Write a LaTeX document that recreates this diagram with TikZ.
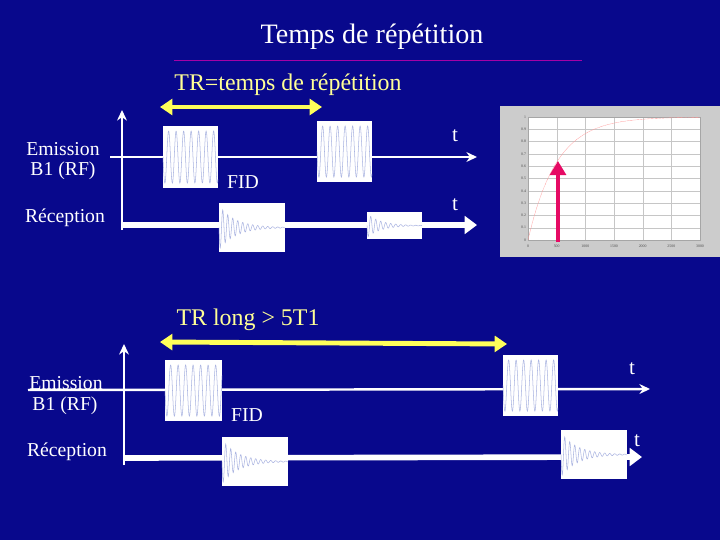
\documentclass[tikz,border=0pt]{standalone}
\usepackage{fontspec}
\setmainfont{Liberation Serif}
\usetikzlibrary{arrows.meta}
\definecolor{bg}{RGB}{8,8,140}
\definecolor{ylw}{RGB}{255,255,150}
\definecolor{wav}{RGB}{170,180,225}
\definecolor{mag}{RGB}{230,10,100}
\tikzset{
  lbl/.style={text=white,font=\fontsize{56}{60}\selectfont,inner sep=0},
  tlbl/.style={text=white,font=\fontsize{60}{64}\selectfont,inner sep=0},
  box/.style={fill=white,draw=none,inner sep=0,anchor=north west},
  wave/.style={wav,line width=1.5pt},
  thinax/.style={white,line width=7pt,-{Stealth[length=30pt,width=28pt]}},
  thickax/.style={white,line width=16pt,-{Triangle[length=35pt,width=50pt]}},
  yarr/.style={ylw!60!yellow,line width=14pt,{Triangle[length=35pt,width=45pt]}-{Triangle[length=35pt,width=45pt]}},
}
\newcommand{\rfw}[3]{\draw[wave,shift={(#1.west)}] plot[domain=0:#2,samples=200] (\x,{0.42*#3*sin(\x*48)});}
\newcommand{\fidw}[3]{\draw[wave,shift={(#1.west)}] plot[domain=0:#2,samples=200] (\x,{0.45*#3*exp(-\x*4/#2)*sin(\x*72)});}
\begin{document}
\begin{tikzpicture}[x=0.1cm,y=-0.1cm]
\useasboundingbox (0,0) rectangle (720,540);
\fill[bg] (0,0) rectangle (720,540);
% title
\node[text=white,font=\fontsize{80}{84}\selectfont,inner sep=0] (title) at (372,37) {Temps de répétition};
\coordinate (ul1) at (174,60); \coordinate (ul2) at (582,60);
\draw[violet!70!magenta,line width=2pt] (ul1) -- (ul2);
\node[text=ylw,font=\fontsize{68}{72}\selectfont,inner sep=0] (tr) at (288,85) {TR=temps de répétition};
% top diagram
\coordinate (ya1) at (160,107); \coordinate (ya2) at (322,107);
\draw[yarr] (ya1) -- (ya2);
\coordinate (v0) at (122,230); \coordinate (v1) at (122,110);
\draw[thinax] (v0) -- (v1);
\coordinate (e0) at (110,157); \coordinate (e1) at (477,157);
\draw[thinax] (e0) -- (e1);
\coordinate (r0) at (122,225); \coordinate (r1) at (477,225);
\draw[thickax] (r0) -- (r1);
\node[box,minimum width=55*0.1cm,minimum height=62*0.1cm] (p1) at (163,126) {};
\node[box,minimum width=55*0.1cm,minimum height=61*0.1cm] (p2) at (317,121) {};
\node[box,minimum width=66*0.1cm,minimum height=49*0.1cm] (f1) at (219,203) {};
\node[box,minimum width=55*0.1cm,minimum height=27*0.1cm] (f2) at (367,212) {};
\rfw{p1}{55}{62}\rfw{p2}{55}{61}\fidw{f1}{66}{49}\fidw{f2}{55}{27}
\node[lbl] (fid1) at (243,182) {FID};
\node[tlbl] (t1) at (455,136) {t};
\node[tlbl] (t2) at (455,205) {t};
\node[lbl] (em1) at (63,149) {Emission};
\node[lbl] (b1) at (63,171) {B1 (RF)};
\node[lbl] (re1) at (65,218) {Réception};
% graph
\fill[gray!40] (500,106) rectangle (720,257);
\fill[white] (528,117) rectangle (700,240);
\foreach \i in {0,...,6} \draw[gray!45,line width=0.8pt] (528+\i*172/6,117) -- (528+\i*172/6,240);
\foreach \i in {0,...,10} \draw[gray!45,line width=0.8pt] (528,240-\i*12.3) -- (700,240-\i*12.3);
\draw[gray!70,line width=0.8pt] (528,117) rectangle (700,240);
\foreach \i/\l in {0/0,1/500,2/1000,3/1500,4/2000,5/2500,6/3000}
  \node[font=\fontsize{11}{12}\selectfont,text=black!70,inner sep=0] (gx\i) at (528+\i*172/6,246) {\l};
\foreach \i/\l in {0/0,1/0.1,2/0.2,3/0.3,4/0.4,5/0.5,6/0.6,7/0.7,8/0.8,9/0.9,10/1}
  \node[font=\fontsize{11}{12}\selectfont,text=black!70,inner sep=0,anchor=east] (gy\i) at (526,240-\i*12.3) {\l};
\draw[pink!80!red,densely dotted,line width=1pt] plot[domain=0:30,samples=120] ({528+\x*172/30},{240-123*(1-exp(-\x/5))});
\coordinate (ra0) at (558,242); \coordinate (ra1) at (558,161);
\draw[mag,line width=14pt,-{Triangle[length=40pt,width=45pt]}] (ra0) -- (ra1);
% bottom diagram
\node[text=ylw,font=\fontsize{68}{72}\selectfont,inner sep=0] (trl) at (248,320) {TR long > 5T1};
\coordinate (yb1) at (160,342); \coordinate (yb2) at (507,344);
\draw[yarr] (yb1) -- (yb2);
\coordinate (w0) at (124,465); \coordinate (w1) at (124,344);
\draw[thinax] (w0) -- (w1);
\coordinate (g0) at (28,390); \coordinate (g1) at (650,389);
\draw[thinax] (g0) -- (g1);
\coordinate (s0) at (124,458); \coordinate (s1) at (642,457);
\draw[thickax] (s0) -- (s1);
\node[box,minimum width=57*0.1cm,minimum height=61*0.1cm] (p3) at (165,360) {};
\node[box,minimum width=55*0.1cm,minimum height=61*0.1cm] (p4) at (503,355) {};
\node[box,minimum width=66*0.1cm,minimum height=49*0.1cm] (f3) at (222,437) {};
\node[box,minimum width=66*0.1cm,minimum height=49*0.1cm] (f4) at (561,430) {};
\rfw{p3}{57}{61}\rfw{p4}{55}{61}\fidw{f3}{66}{49}\fidw{f4}{66}{49}
\node[lbl] (fid2) at (247,415) {FID};
\node[tlbl] (t3) at (632,369) {t};
\node[tlbl] (t4) at (637,441) {t};
\node[lbl] (em2) at (66,383) {Emission};
\node[lbl] (b2) at (65,406) {B1 (RF)};
\node[lbl] (re2) at (67,452) {Réception};
\end{tikzpicture}
\end{document}
